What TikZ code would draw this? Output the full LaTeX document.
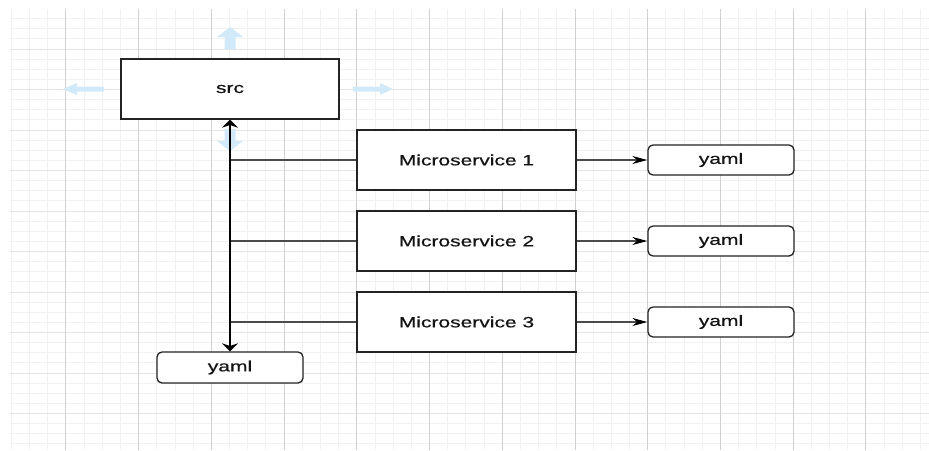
\documentclass[tikz,border=0pt]{standalone}
\usepackage{fontspec}
\setmainfont{Liberation Sans}
\newfontfamily\labelfont[FakeBold=0.4]{Liberation Sans}
\usetikzlibrary{arrows.meta}
\definecolor{gridminor}{RGB}{241,241,241}
\definecolor{gridmajorv}{RGB}{208,208,208}
\definecolor{gridmajorh}{RGB}{228,228,228}
\definecolor{hintblue}{RGB}{210,233,250}
\definecolor{boxline}{RGB}{35,35,35}
\definecolor{linkgray}{RGB}{75,75,75}
\definecolor{inktext}{RGB}{20,20,20}
\newcommand{\wtext}[1]{\scalebox{1.4}[1]{#1}}
\tikzset{
  box/.style={draw=boxline, line width=1.3pt, fill=white, text=inktext,
    font=\labelfont\fontsize{15pt}{18pt}\selectfont, inner sep=0pt},
  ybox/.style={box, rounded corners=5pt, minimum width=146pt, minimum height=30pt},
  msbox/.style={box, minimum width=219pt, minimum height=60pt},
  branch/.style={draw=linkgray, line width=1.1pt},
  feed/.style={draw=linkgray, line width=1.1pt, -{Stealth[length=15pt,width=8pt,color=black]}},
  trunk/.style={draw=black, line width=2pt,
    {Stealth[length=8pt,width=16pt]}-{Stealth[length=8pt,width=16pt]}},
  hint/.style={fill=hintblue, draw=none}
}
\begin{document}
\begin{tikzpicture}[x=1pt, y=-1pt]
\useasboundingbox[fill=white] (0,0) rectangle (929,450);

% background grid
\begin{scope}
\clip (10,9) rectangle (929,450);
\foreach \n in {0,...,50} {
  \draw[gridminor, line width=1pt] ({11.45+18.18*\n},9) -- ({11.45+18.18*\n},450);
}
\foreach \m in {0,...,43} {
  \draw[gridminor, line width=1pt] (10,{8.5+10.125*\m}) -- (929,{8.5+10.125*\m});
}
\foreach \m in {0,4,...,40} {
  \draw[gridmajorh, line width=1pt] (10,{8.5+10.125*\m}) -- (929,{8.5+10.125*\m});
}
\foreach \n in {3,7,...,47} {
  \draw[gridmajorv, line width=1pt] ({11.45+18.18*\n},9) -- ({11.45+18.18*\n},450);
}
\end{scope}

% connection hints around src
\fill[hint] (224.5,49) -- (224.5,37) -- (217,37) -- (230,27) -- (243,37) -- (235.5,37) -- (235.5,49) -- cycle;
\fill[hint] (224.5,129) -- (224.5,141) -- (217,141) -- (230,151) -- (243,141) -- (235.5,141) -- (235.5,129) -- cycle;
\fill[hint] (104,86.5) -- (77,86.5) -- (77,83) -- (63,89) -- (77,95) -- (77,91.5) -- (104,91.5) -- cycle;
\fill[hint] (353,86.5) -- (380,86.5) -- (380,83) -- (393,89) -- (380,95) -- (380,91.5) -- (353,91.5) -- cycle;

% boxes
\node[box, minimum width=218pt, minimum height=60pt] (src) at (230,89) {\wtext{src}};
\node[msbox] (ms1) at (466.5,160) {\wtext{Microservice 1}};
\node[msbox] (ms2) at (466.5,241) {\wtext{Microservice 2}};
\node[msbox] (ms3) at (466.5,322) {\wtext{Microservice 3}};
\node[ybox] (y1) at (721,160) {\wtext{yaml}};
\node[ybox] (y2) at (721,241) {\wtext{yaml}};
\node[ybox] (y3) at (721,322) {\wtext{yaml}};
\node[ybox, minimum height=31pt] (ysrc) at (230,367.5) {\wtext{yaml}};

% links
\draw[branch] (ms1.west) -- (ms1.west -| src.south);
\draw[branch] (ms2.west) -- (ms2.west -| src.south);
\draw[branch] (ms3.west) -- (ms3.west -| src.south);
\draw[trunk] (src.south) -- (ysrc.north);
\draw[feed] (ms1.east) -- (y1.west);
\draw[feed] (ms2.east) -- (y2.west);
\draw[feed] (ms3.east) -- (y3.west);
\end{tikzpicture}
\end{document}
